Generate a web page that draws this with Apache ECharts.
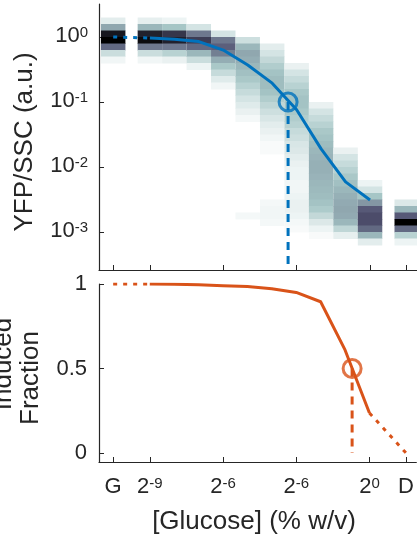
<!DOCTYPE html>
<html>
<head>
<meta charset="utf-8">
<script src="https://cdn.jsdelivr.net/npm/echarts@6/dist/echarts.min.js"></script>
<style>
  html, body { margin: 0; padding: 0; background: #ffffff; }
  #chart { width: 417px; height: 540px; }
</style>
</head>
<body>
<div id="chart"></div>
<script>
// Glucose conditions on a log2 axis; G and D are the two reference conditions at either end
const concLog2 = [-10.5, -9, -8, -7, -6, -5, -4, -3, -2, -1, 0, 1.5];
const tickPositions = [-10.5, -9, -6, -3, 0, 1.5];
const tickLabels = ['G', '2^-9', '2^-6', '2^-6', '2^0', 'D'];

// Mean YFP/SSC per condition (G through 2^0)
const yfpMean = [1.0, 0.966, 0.92, 0.85, 0.63, 0.37, 0.195, 0.076, 0.019, 0.0059, 0.0031];
// Fraction of induced cells per condition (G through D)
const inducedFraction = [1.0, 1.0, 0.998, 0.995, 0.99, 0.985, 0.972, 0.95, 0.895, 0.61, 0.237, 0.0];

// Half-induction points: [log2 concentration, value]
const yfpHalfPoint = [-3.35, 0.1];
const fractionHalfPoint = [-0.71, 0.5];

// Decade ticks of the YFP/SSC axis
const yfpTicks = [0.001, 0.01, 0.1, 1];

// Single-cell YFP/SSC histograms, one per condition: upper edge (log10) of the first bin,
// then relative density in consecutive 0.1-decade bins going down
const densityTop = [0.3, 0.3, 0.3, 0.2, 0.1, 0.0, -0.1, -0.4, -1.0, -1.7, -2.2, -2.5];
const densityBins = [
  [0.08, 0.35, 0.9, 1.0, 0.55, 0.15, 0.04],
  [0.07, 0.3, 0.85, 0.95, 0.5, 0.15, 0.04],
  [0.05, 0.25, 0.75, 0.85, 0.5, 0.2, 0.06],
  [0.12, 0.5, 0.72, 0.55, 0.3, 0.15, 0.05],
  [0.12, 0.5, 0.58, 0.48, 0.33, 0.24, 0.16, 0.09, 0.04],
  [0.14, 0.3, 0.35, 0.33, 0.3, 0.27, 0.24, 0.2, 0.16, 0.12, 0.09, 0.06, 0.03,
   0, 0, 0, 0, 0, 0, 0, 0, 0, 0, 0, 0, 0, 0, 0.03],
  [0.08, 0.12, 0.17, 0.22, 0.26, 0.28, 0.28, 0.26, 0.22, 0.18, 0.14, 0.11, 0.08, 0.06, 0.04, 0.02,
   0.02, 0, 0, 0, 0, 0, 0, 0, 0.03, 0.04, 0.04, 0.03],
  [0.06, 0.12, 0.16, 0.2, 0.24, 0.26, 0.26, 0.24, 0.22, 0.2, 0.16, 0.14, 0.11, 0.1, 0.08, 0.06,
   0.05, 0.05, 0.04, 0.04, 0.05, 0.06, 0.06, 0.05, 0.03, 0.02],
  [0.06, 0.12, 0.16, 0.2, 0.24, 0.26, 0.28, 0.3, 0.31, 0.32, 0.32, 0.31, 0.3, 0.29, 0.28, 0.26,
   0.23, 0.17, 0.1, 0.05, 0.02],
  [0.06, 0.12, 0.16, 0.2, 0.24, 0.27, 0.3, 0.32, 0.34, 0.35, 0.34, 0.3, 0.18, 0.07],
  [0.05, 0.12, 0.25, 0.4, 0.6, 0.65, 0.65, 0.55, 0.3, 0.08],
  [0.1, 0.3, 0.6, 1.0, 0.55, 0.2, 0.05]
];
const binStep = 0.1;

const BLUE = '#0072BD';
const ORANGE = '#D95319';
const INK = '#262626';
const FONT = '"Liberation Sans", Arial, Helvetica, sans-serif';

// Reversed "bone" colormap: 0 -> white, 1 -> black
function boneReversed(v) {
  const s = 1 - Math.max(0, Math.min(1, v));
  const stops = [[0, [0, 0, 0]], [0.375, [0.319, 0.319, 0.444]], [0.75, [0.652, 0.777, 0.777]], [1, [1, 1, 1]]];
  for (let i = 1; i < stops.length; i++) {
    if (s <= stops[i][0]) {
      const [s0, c0] = stops[i - 1];
      const [s1, c1] = stops[i];
      const t = (s - s0) / (s1 - s0);
      const c = c0.map((a, k) => Math.round(255 * (a + (c1[k] - a) * t)));
      return 'rgb(' + c.join(',') + ')';
    }
  }
  return '#fff';
}

// The YFP/SSC panel is plotted in log10 units so the decades are evenly spaced
const lg = v => Math.log10(v);

// Flatten the histograms into rectangles: [x, upper log10, lower log10, density]
const densityRects = [];
concLog2.forEach((x, i) => {
  densityBins[i].forEach((d, j) => {
    if (d <= 0) return;
    densityRects.push([x, densityTop[i] - j * binStep, densityTop[i] - (j + 1) * binStep, d]);
  });
});

const xMin = -11.08, xMax = 1.92;
const yTopMin = -3.585, yTopMax = 0.508;   // log10 extent
const yBotMin = -0.053, yBotMax = 1.0;

const richLabel = {
  b: { fontSize: 22, fontFamily: FONT, color: INK, lineHeight: 30, verticalAlign: 'top' },
  p: { fontSize: 22, fontFamily: FONT, color: INK, lineHeight: 22, verticalAlign: 'top' },
  s: { fontSize: 15, fontFamily: FONT, color: INK, lineHeight: 14, verticalAlign: 'top' }
};

function xLabel(v) {
  const idx = tickPositions.findIndex(t => Math.abs(t - v) < 1e-6);
  if (idx < 0) return '';
  const txt = tickLabels[idx];
  const m = txt.split('^');
  if (m.length === 2) return '{b|' + m[0] + '}{s|' + m[1] + '}';
  return '{p|' + txt + '}';
}

const tickStyle = values => ({
  show: true, inside: true, length: 5, lineStyle: { color: INK, width: 1 }, customValues: values
});
const axisLineStyle = { show: true, onZero: false, lineStyle: { color: INK, width: 1.2 } };

const chart = echarts.init(document.getElementById('chart'), null, { renderer: 'canvas' });

const xTop = {
  type: 'value', gridIndex: 0, min: xMin, max: xMax,
  axisLine: axisLineStyle, splitLine: { show: false },
  axisLabel: { show: false, customValues: tickPositions },
  axisTick: tickStyle(tickPositions)
};
const xBottom = {
  type: 'value', gridIndex: 1, min: xMin, max: xMax,
  axisLine: axisLineStyle, splitLine: { show: false },
  axisLabel: { show: true, margin: 14, customValues: tickPositions, formatter: xLabel, rich: richLabel },
  axisTick: tickStyle(tickPositions)
};
const yTop = {
  type: 'value', gridIndex: 0, min: yTopMin, max: yTopMax,
  axisLine: axisLineStyle, splitLine: { show: false },
  axisLabel: {
    show: true, margin: 11, customValues: yfpTicks.map(lg),
    padding: [6, 0, 0, 0],
    formatter: v => '{b|10}{s|' + Math.round(v) + '}',
    rich: richLabel
  },
  axisTick: tickStyle(yfpTicks.map(lg))
};
const yBottom = {
  type: 'value', gridIndex: 1, min: yBotMin, max: yBotMax,
  axisLine: axisLineStyle, splitLine: { show: false },
  axisLabel: {
    show: true, margin: 12, customValues: [0, 0.5, 1],
    formatter: v => String(v), fontSize: 22, fontFamily: FONT, color: INK
  },
  axisTick: tickStyle([0, 0.5, 1])
};

const yfpPairs = yfpMean.map((v, i) => [concLog2[i], lg(v)]);
const yfpHalf = [yfpHalfPoint[0], lg(yfpHalfPoint[1])];
const fracPairs = inducedFraction.map((v, i) => [concLog2[i], v]);
const last = concLog2.length - 1;

function lineSeries(name, idx, data, color, dash) {
  return {
    name, type: 'line', xAxisIndex: idx, yAxisIndex: idx, data,
    showSymbol: false, symbol: 'none', silent: true, z: 5,
    lineStyle: { color, width: 3, type: dash || 'solid', cap: 'butt', join: 'round' }
  };
}

function halfMarker(name, idx, point, color) {
  return {
    name, type: 'scatter', xAxisIndex: idx, yAxisIndex: idx, data: [point],
    symbol: 'circle', symbolSize: 18, silent: true, z: 6,
    itemStyle: { color: 'rgba(0,0,0,0)', borderColor: color, borderWidth: 3 }
  };
}

const option = {
  animation: false,
  backgroundColor: '#ffffff',
  grid: [
    { left: 99, right: 0, top: 4, height: 266, containLabel: false },
    { left: 99, right: 0, top: 284, height: 178, containLabel: false }
  ],
  xAxis: [xTop, xBottom],
  yAxis: [yTop, yBottom],
  series: [
    {
      name: 'single-cell density', type: 'custom', xAxisIndex: 0, yAxisIndex: 0,
      data: densityRects, silent: true, z: 1, clip: true,
      renderItem: function (params, api) {
        const x = api.value(0);
        const p1 = api.coord([x - 0.5, api.value(1)]);
        const p2 = api.coord([x + 0.5, api.value(2)]);
        return {
          type: 'rect',
          shape: { x: p1[0], y: p1[1], width: p2[0] - p1[0], height: p2[1] - p1[1] + 0.5 },
          style: { fill: boneReversed(api.value(3)) }
        };
      }
    },
    lineSeries('yfp reference', 0, yfpPairs.slice(0, 2), BLUE, [4, 6]),
    lineSeries('yfp', 0, yfpPairs.slice(1), BLUE),
    lineSeries('yfp half drop', 0, [yfpHalf, [yfpHalf[0], yTopMin]], BLUE, [8, 6]),
    halfMarker('yfp half point', 0, yfpHalf, BLUE),
    lineSeries('fraction glucose ref', 1, fracPairs.slice(0, 2), ORANGE, [4, 6]),
    lineSeries('fraction', 1, fracPairs.slice(1, last), ORANGE),
    lineSeries('fraction dextrose ref', 1, fracPairs.slice(last - 1), ORANGE, [4, 6]),
    lineSeries('fraction half drop', 1, [fractionHalfPoint, [fractionHalfPoint[0], 0]], ORANGE, [8, 6]),
    halfMarker('fraction half point', 1, fractionHalfPoint, ORANGE)
  ],
  graphic: [
    {
      type: 'text', x: 25, y: 142, rotation: Math.PI / 2, silent: true,
      style: { text: 'YFP/SSC (a.u.)', font: '26px ' + FONT, fill: INK, align: 'center', verticalAlign: 'middle' }
    },
    {
      type: 'text', x: 4, y: 364, rotation: Math.PI / 2, silent: true,
      style: { text: 'Induced', font: '26px ' + FONT, fill: INK, align: 'center', verticalAlign: 'middle' }
    },
    {
      type: 'text', x: 31, y: 378, rotation: Math.PI / 2, silent: true,
      style: { text: 'Fraction', font: '26px ' + FONT, fill: INK, align: 'center', verticalAlign: 'middle' }
    },
    {
      type: 'text', x: 254, y: 522, silent: true,
      style: { text: '[Glucose] (% w/v)', font: '26px ' + FONT, fill: INK, align: 'center', verticalAlign: 'middle' }
    }
  ]
};

chart.setOption(option);
</script>
</body>
</html>
